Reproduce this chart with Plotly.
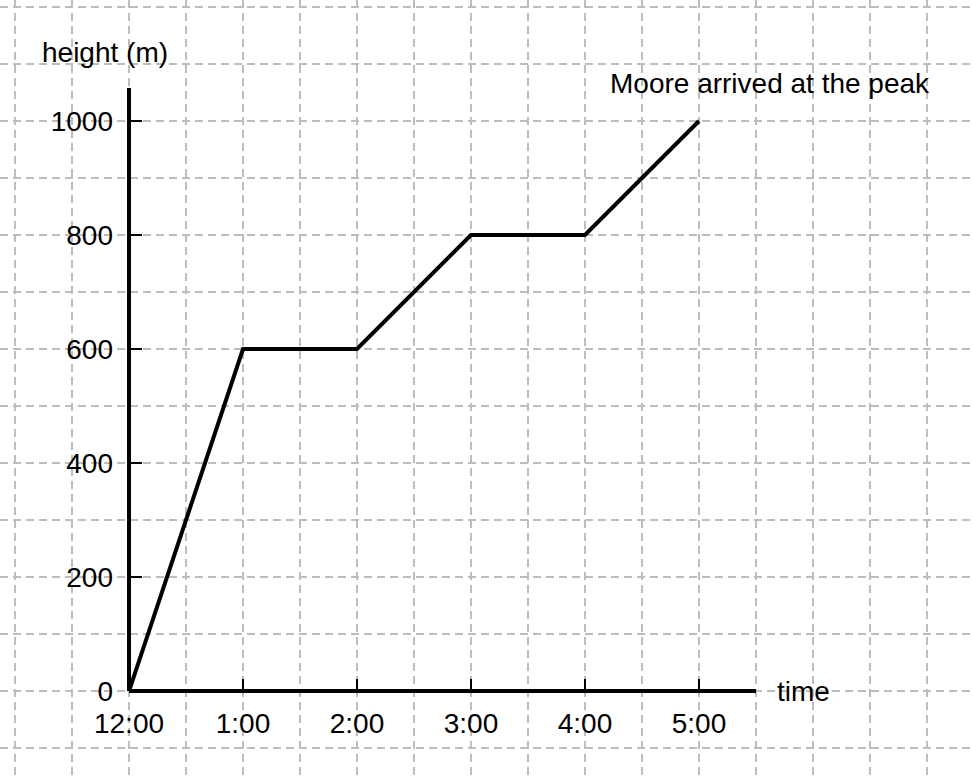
import plotly.graph_objects as go

# Data
time_hours = [0, 1, 2, 3, 4, 5]
time_labels = ["12:00", "1:00", "2:00", "3:00", "4:00", "5:00"]
heights = [0, 600, 600, 800, 800, 1000]
height_ticks = [0, 200, 400, 600, 800, 1000]

W, H = 973, 776
x_range = [-1.1316, 7.4035]
y_range = [-149.1, 1212.3]
FONT = "Liberation Sans, Arial, sans-serif"
FS = 28

x_pos = (0 - x_range[0]) / (x_range[1] - x_range[0])
y_pos = (0 - y_range[0]) / (y_range[1] - y_range[0])

fig = go.Figure()
fig.add_trace(go.Scatter(x=time_hours, y=heights, mode="lines",
                         line=dict(color="black", width=4), showlegend=False,
                         hoverinfo="skip"))

grid = dict(showgrid=True, gridcolor="#bdbdbd", gridwidth=2, griddash="8px,5px",
            zeroline=False, showticklabels=False, ticks="", fixedrange=True)

fig.update_layout(
    width=W, height=H, margin=dict(l=0, r=0, t=0, b=0),
    paper_bgcolor="white", plot_bgcolor="white",
    font=dict(family=FONT, size=FS, color="black"),
    xaxis=dict(range=x_range, tick0=0, dtick=0.5, **grid),
    yaxis=dict(range=y_range, tick0=0, dtick=100, **grid),
    xaxis2=dict(overlaying="x", range=x_range, anchor="free", position=y_pos,
                tickmode="array", tickvals=time_hours, ticktext=time_labels,
                ticks="inside", ticklen=12, tickwidth=2, tickcolor="black",
                showgrid=False, zeroline=False, showline=False,
                ticklabelstandoff=13, tickfont=dict(size=FS)),
    yaxis2=dict(overlaying="y", range=y_range, anchor="free", position=x_pos,
                tickmode="array", tickvals=height_ticks,
                ticks="inside", ticklen=12, tickwidth=2, tickcolor="black",
                showgrid=False, zeroline=False, showline=False,
                ticklabelstandoff=16, tickfont=dict(size=FS)),
    showlegend=False,
)

# dummy trace so secondary axes render
fig.add_trace(go.Scatter(x=[time_hours[0]], y=[heights[0]], xaxis="x2", yaxis="y2",
                         mode="markers", marker=dict(opacity=0), showlegend=False,
                         hoverinfo="skip"))

# axis lines
fig.add_shape(type="line", x0=0, x1=5.5, y0=0, y1=0, xref="x", yref="y",
              line=dict(color="black", width=4))
fig.add_shape(type="line", x0=0, x1=0, y0=0, y1=1058, xref="x", yref="y",
              line=dict(color="black", width=4))

fig.add_annotation(x=5.92, y=0, xref="x", yref="y", text="time", showarrow=False,
                   xanchor="center", yanchor="middle", font=dict(size=FS))
fig.add_annotation(x=-0.21, y=1120, xref="x", yref="y", text="height (m)",
                   showarrow=False, xanchor="center", yanchor="middle",
                   font=dict(size=FS))
fig.add_annotation(x=5.62, y=1065, xref="x", yref="y", text="Moore arrived at the peak",
                   showarrow=False, xanchor="center", yanchor="middle",
                   font=dict(size=FS))

fig.write_html("out.html", config={"displayModeBar": False},
               post_script="document.body.style.margin='0px';document.body.style.padding='0px';")
